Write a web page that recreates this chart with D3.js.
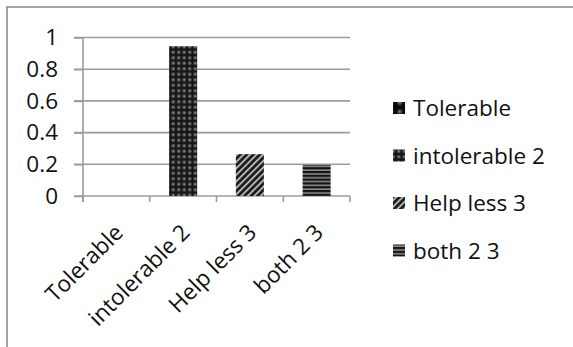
<!DOCTYPE html>
<html>
<head>
<meta charset="utf-8">
<script src="https://cdn.jsdelivr.net/npm/d3@7"></script>
<style>
  html, body { margin: 0; padding: 0; background: #fff; }
  svg { display: block; }
  text { font-family: "Open Sans", "Noto Sans", sans-serif; fill: #111; }
</style>
</head>
<body>
<svg id="chart" width="573" height="347"></svg>
<script>
// Response categories and their shares
const categories = ["Tolerable", "intolerable 2", "Help less 3", "both 2 3"];
const values = [0, 0.945, 0.264, 0.196];
const yTicks = [0, 0.2, 0.4, 0.6, 0.8, 1];
const patternIds = ["pat-sphere", "pat-dots", "pat-diag", "pat-hstripe"];

const svg = d3.select("#chart");
const plot = { left: 83, right: 350, top: 37.5, bottom: 196 };
const gridColor = "#9c9c9c";
const fontSize = 22.5;

// ---- fill patterns ----
const defs = svg.append("defs");

const rg = defs.append("radialGradient").attr("id", "dotGrad");
rg.append("stop").attr("offset", "0%").attr("stop-color", "#9a9a9a");
rg.append("stop").attr("offset", "55%").attr("stop-color", "#555");
rg.append("stop").attr("offset", "100%").attr("stop-color", "#161616");

const sg = defs.append("radialGradient").attr("id", "sphereGrad")
  .attr("cx", "40%").attr("cy", "40%");
sg.append("stop").attr("offset", "0%").attr("stop-color", "#8a8a8a");
sg.append("stop").attr("offset", "60%").attr("stop-color", "#2a2a2a");
sg.append("stop").attr("offset", "100%").attr("stop-color", "#080808");

// large spheres
const pSphere = defs.append("pattern").attr("id", "pat-sphere")
  .attr("patternUnits", "userSpaceOnUse").attr("width", 9).attr("height", 9);
pSphere.append("rect").attr("width", 9).attr("height", 9).attr("fill", "#0a0a0a");
pSphere.append("circle").attr("cx", 4.5).attr("cy", 4.5).attr("r", 4).attr("fill", "url(#sphereGrad)");

// dotted grid
const pDots = defs.append("pattern").attr("id", "pat-dots")
  .attr("patternUnits", "userSpaceOnUse").attr("width", 5.5).attr("height", 5.5);
pDots.append("rect").attr("width", 5.5).attr("height", 5.5).attr("fill", "#161616");
pDots.append("circle").attr("cx", 2.75).attr("cy", 2.75).attr("r", 2.4).attr("fill", "url(#dotGrad)");

// diagonal stripes
const pDiag = defs.append("pattern").attr("id", "pat-diag")
  .attr("patternUnits", "userSpaceOnUse").attr("width", 4.6).attr("height", 4.6)
  .attr("patternTransform", "rotate(45)");
pDiag.append("rect").attr("width", 4.6).attr("height", 4.6).attr("fill", "#1a1a1a");
pDiag.append("rect").attr("width", 1.9).attr("height", 4.6).attr("fill", "#b4b4b4");

// horizontal stripes
const pH = defs.append("pattern").attr("id", "pat-hstripe")
  .attr("patternUnits", "userSpaceOnUse").attr("width", 4).attr("height", 3.8);
pH.append("rect").attr("width", 4).attr("height", 3.8).attr("fill", "#141414");
pH.append("rect").attr("y", 2.2).attr("width", 4).attr("height", 1.6).attr("fill", "#8a8a8a");

// ---- outer frame ----
svg.append("rect")
  .attr("x", 7).attr("y", 7).attr("width", 700).attr("height", 500)
  .attr("fill", "none").attr("stroke", "#8c8c8c").attr("stroke-width", 1.6);

// ---- scales ----
const x = d3.scaleBand().domain(categories)
  .range([plot.left, plot.right]).paddingInner(0.58).paddingOuter(0.29);
const y = d3.scaleLinear().domain([0, 1]).range([plot.bottom, plot.top]);
const step = x.step();
const bandStart = c => x(c) - step * x.paddingInner() / 2;

// ---- gridlines ----
svg.append("g").selectAll("line").data(yTicks).join("line")
  .attr("x1", plot.left - 9).attr("x2", plot.right)
  .attr("y1", d => y(d)).attr("y2", d => y(d))
  .attr("stroke", gridColor).attr("stroke-width", 1.6);

// ---- y axis ----
const yAxis = svg.append("g").attr("transform", `translate(${plot.left},0)`)
  .call(d3.axisLeft(y).tickValues(yTicks).tickSize(9).tickPadding(16)
    .tickFormat(d => d3.format("~g")(d)));
yAxis.select(".domain").remove();
yAxis.selectAll(".tick line").attr("stroke", gridColor).attr("stroke-width", 1.6);
yAxis.selectAll("text").attr("font-size", fontSize).attr("fill", "#111")
  .attr("font-family", "'Open Sans', sans-serif");
svg.append("line")
  .attr("x1", plot.left).attr("x2", plot.left)
  .attr("y1", plot.top).attr("y2", plot.bottom + 6)
  .attr("stroke", gridColor).attr("stroke-width", 1.6);

// ---- x axis tick marks at category boundaries ----
const bounds = categories.map(bandStart).concat([plot.right]);
svg.append("g").selectAll("line").data(bounds).join("line")
  .attr("x1", d => d).attr("x2", d => d)
  .attr("y1", plot.bottom).attr("y2", plot.bottom + 6)
  .attr("stroke", gridColor).attr("stroke-width", 1.6);

// ---- bars ----
svg.append("g").selectAll("rect").data(categories).join("rect")
  .attr("x", d => x(d)).attr("width", x.bandwidth())
  .attr("y", (d, i) => y(values[i]))
  .attr("height", (d, i) => y(0) - y(values[i]))
  .attr("fill", (d, i) => `url(#${patternIds[i]})`);

// ---- rotated category labels ----
svg.append("g").selectAll("text").data(categories).join("text")
  .attr("font-size", fontSize)
  .attr("text-anchor", "end")
  .attr("transform", d => `translate(${x(d) + x.bandwidth() / 2 + 8},234) rotate(-45)`)
  .text(d => d);

// ---- legend ----
const legend = svg.append("g");
const rowY = i => 108 + i * 47.5;
legend.selectAll("rect").data(categories).join("rect")
  .attr("x", 393).attr("y", (d, i) => rowY(i) - 6)
  .attr("width", 12).attr("height", 12)
  .attr("fill", (d, i) => `url(#${patternIds[i]})`);
legend.selectAll("text").data(categories).join("text")
  .attr("x", 413).attr("y", (d, i) => rowY(i))
  .attr("dy", "0.36em")
  .attr("font-size", fontSize)
  .text(d => d);
</script>
</body>
</html>
